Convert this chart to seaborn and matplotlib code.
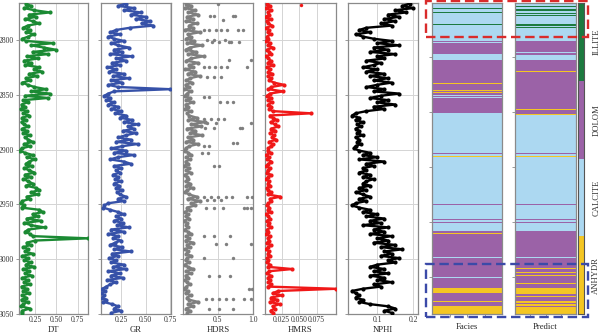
import numpy as np
import pandas as pd
import matplotlib
matplotlib.use("Agg")
import matplotlib.pyplot as plt
import seaborn as sns
from matplotlib.patches import Rectangle

sns.set_theme(style="whitegrid")
plt.rcParams['font.family'] = ['Liberation Serif', 'DejaVu Serif']

# ---------------- data ----------------
DEPTH = [2767, 2769, 2771, 2773, 2775, 2777, 2779, 2781, 2783, 2785, 2787, 2789, 2791, 2793, 2795, 2797, 2799,
         2801, 2803, 2805, 2807, 2809, 2811, 2813, 2815, 2817, 2819, 2821, 2823, 2825, 2827, 2829, 2831, 2833, 2835, 2837, 2839,
         2841, 2843, 2845, 2847, 2849, 2851, 2853, 2855, 2857, 2859, 2861, 2863, 2865, 2867, 2869,
         2871, 2873, 2875, 2877, 2879, 2881, 2883, 2885, 2887, 2889, 2891, 2893, 2895, 2897, 2899,
         2901, 2903, 2905, 2907, 2909, 2911, 2913, 2915, 2917, 2919, 2921, 2923, 2925, 2927, 2929, 2931, 2933, 2935, 2937, 2939, 2941, 2943, 2945, 2947, 2949,
         2951, 2953, 2955, 2957, 2959, 2961, 2963, 2965, 2967, 2969, 2971, 2973, 2975, 2977, 2979, 2981, 2983, 2985, 2987, 2989, 2991, 2993, 2995, 2997, 2999,
         3001, 3003, 3005, 3007, 3009, 3011, 3013, 3015, 3017, 3019, 3021, 3023, 3025, 3027, 3029, 3031, 3033, 3035, 3037, 3039, 3041, 3043, 3045, 3047, 3049]

DT = [0.14, 0.20, 0.12, 0.24, 0.42, 0.18, 0.26, 0.13, 0.22, 0.30, 0.16, 0.11, 0.19, 0.14, 0.24, 0.17, 0.10,
      0.14, 0.46, 0.20, 0.35, 0.49, 0.22, 0.40, 0.15, 0.28, 0.12, 0.20, 0.13, 0.30, 0.24, 0.33, 0.18, 0.27, 0.14, 0.19, 0.10,
      0.16, 0.24, 0.38, 0.20, 0.42, 0.13, 0.40, 0.11, 0.16, 0.09, 0.13, 0.08, 0.15, 0.11, 0.18,
      0.10, 0.14, 0.09, 0.12, 0.17, 0.10, 0.15, 0.11, 0.19, 0.13, 0.17, 0.22, 0.12, 0.19, 0.09,
      0.07, 0.13, 0.22, 0.15, 0.25, 0.18, 0.14, 0.21, 0.12, 0.18, 0.24, 0.13, 0.20, 0.11, 0.17, 0.22, 0.14, 0.26, 0.30, 0.20, 0.28, 0.15, 0.19, 0.10, 0.08,
      0.12, 0.09, 0.30, 0.34, 0.22, 0.28, 0.15, 0.32, 0.12, 0.20, 0.36, 0.17, 0.13, 0.19, 0.22, 0.87, 0.25, 0.15, 0.20, 0.11, 0.17, 0.13, 0.22, 0.10, 0.16,
      0.12, 0.20, 0.14, 0.24, 0.11, 0.18, 0.13, 0.21, 0.10, 0.16, 0.12, 0.19, 0.09, 0.15, 0.11, 0.18, 0.10, 0.14, 0.09, 0.16, 0.11, 0.08, 0.19, 0.10, 0.09]

GR = [0.30, 0.22, 0.38, 0.28, 0.45, 0.35, 0.50, 0.40, 0.55, 0.46, 0.58, 0.34, 0.20, 0.14, 0.24, 0.12, 0.18,
      0.28, 0.15, 0.22, 0.33, 0.18, 0.26, 0.14, 0.36, 0.20, 0.30, 0.16, 0.24, 0.11, 0.20, 0.13, 0.28, 0.17, 0.33, 0.15, 0.26,
      0.12, 0.22, 0.75, 0.18, 0.12, 0.08, 0.14, 0.10, 0.18, 0.12, 0.22, 0.15, 0.25, 0.19, 0.30,
      0.24, 0.36, 0.28, 0.42, 0.32, 0.38, 0.27, 0.40, 0.30, 0.22, 0.35, 0.20, 0.42, 0.26, 0.15,
      0.30, 0.18, 0.38, 0.22, 0.14, 0.28, 0.35, 0.18, 0.25, 0.20, 0.24, 0.17, 0.22, 0.19, 0.25, 0.18, 0.23, 0.20, 0.26, 0.21, 0.24, 0.30, 0.22, 0.28, 0.12,
      0.08, 0.07, 0.14, 0.22, 0.28, 0.20, 0.25, 0.18, 0.27, 0.21, 0.33, 0.15, 0.28, 0.12, 0.22, 0.17, 0.25, 0.19, 0.14, 0.26, 0.18, 0.35, 0.16, 0.22, 0.13,
      0.20, 0.15, 0.28, 0.17, 0.30, 0.12, 0.24, 0.15, 0.27, 0.11, 0.20, 0.14, 0.10, 0.06, 0.09, 0.05, 0.08, 0.06, 0.10, 0.07, 0.16, 0.22, 0.18, 0.25, 0.15]

HDRS = [0.05, 0.12, 0.03, 0.18, 0.08, 0.22, 0.06, 0.15, 0.04, 0.20, 0.09, 0.14, 0.03, 0.25, 0.07, 0.11, 0.05,
        0.16, 0.06, 0.28, 0.10, 0.04, 0.19, 0.08, 0.30, 0.12, 0.05, 0.22, 0.09, 0.15, 0.03, 0.18, 0.07, 0.24, 0.10, 0.05, 0.13,
        0.04, 0.09, 0.02, 0.12, 0.06, 0.03, 0.10, 0.05, 0.15, 0.04, 0.08, 0.03, 0.11, 0.06, 0.09,
        0.20, 0.08, 0.32, 0.12, 0.26, 0.06, 0.18, 0.10, 0.28, 0.07, 0.15, 0.05, 0.22, 0.09, 0.04,
        0.03, 0.08, 0.12, 0.05, 0.10, 0.04, 0.07, 0.02, 0.09, 0.05, 0.11, 0.03, 0.06, 0.08, 0.04, 0.10, 0.05, 0.14, 0.06, 0.03, 0.09, 0.20, 0.07, 0.25, 0.12,
        0.18, 0.06, 0.10, 0.03, 0.07, 0.04, 0.09, 0.02, 0.06, 0.05, 0.08, 0.03, 0.07, 0.12, 0.05, 0.09, 0.04, 0.15, 0.06, 0.10, 0.03, 0.08, 0.05, 0.12, 0.06,
        0.04, 0.09, 0.03, 0.07, 0.15, 0.05, 0.11, 0.04, 0.08, 0.03, 0.06, 0.10, 0.05, 0.02, 0.07, 0.04, 0.12, 0.06, 0.09, 0.22, 0.08, 0.14, 0.05, 0.10, 0.06]

HMRS = [0.004, 0.008, 0.003, 0.010, 0.005, 0.007, 0.002, 0.009, 0.004, 0.006, 0.011, 0.003, 0.007, 0.005, 0.009, 0.004, 0.006,
        0.003, 0.008, 0.005, 0.012, 0.004, 0.007, 0.010, 0.003, 0.006, 0.009, 0.005, 0.013, 0.004, 0.008, 0.006, 0.011, 0.005, 0.009, 0.007, 0.014,
        0.028, 0.010, 0.006, 0.027, 0.008, 0.004, 0.009, 0.005, 0.011, 0.006, 0.010, 0.007, 0.012, 0.067, 0.008,
        0.012, 0.018, 0.009, 0.015, 0.020, 0.010, 0.016, 0.008, 0.014, 0.011, 0.017, 0.007, 0.012, 0.009, 0.006,
        0.005, 0.009, 0.003, 0.007, 0.004, 0.010, 0.006, 0.003, 0.008, 0.005, 0.004, 0.009, 0.006, 0.003, 0.007, 0.005, 0.008, 0.004, 0.006, 0.009, 0.005, 0.023, 0.008, 0.010, 0.006,
        0.004, 0.007, 0.005, 0.009, 0.003, 0.006, 0.008, 0.004, 0.007, 0.005, 0.010, 0.004, 0.006, 0.003, 0.008, 0.005, 0.007, 0.004, 0.009, 0.006, 0.003, 0.007, 0.005, 0.008, 0.004,
        0.006, 0.004, 0.008, 0.005, 0.040, 0.007, 0.004, 0.009, 0.005, 0.008, 0.006, 0.010, 0.005, 0.103, 0.020, 0.012, 0.025, 0.010, 0.018, 0.008, 0.022, 0.012, 0.015, 0.009, 0.013]

NPHI = [0.19, 0.17, 0.20, 0.15, 0.18, 0.13, 0.16, 0.12, 0.15, 0.11, 0.14, 0.07, 0.05, 0.08, 0.04, 0.06, 0.09,
        0.14, 0.10, 0.16, 0.09, 0.13, 0.08, 0.15, 0.10, 0.12, 0.07, 0.11, 0.09, 0.06, 0.10, 0.07, 0.12, 0.08, 0.13, 0.09, 0.14,
        0.10, 0.07, 0.12, 0.09, 0.16, 0.11, 0.08, 0.13, 0.10, 0.15, 0.09, 0.12, 0.07, 0.04, 0.03,
        0.05, 0.04, 0.06, 0.045, 0.055, 0.04, 0.05, 0.045, 0.06, 0.04, 0.05, 0.045, 0.055, 0.04, 0.035,
        0.05, 0.08, 0.06, 0.10, 0.05, 0.12, 0.07, 0.09, 0.06, 0.07, 0.05, 0.08, 0.06, 0.09, 0.07, 0.06, 0.08, 0.05, 0.07, 0.04, 0.06, 0.08, 0.05, 0.07, 0.04,
        0.03, 0.05, 0.08, 0.06, 0.10, 0.07, 0.12, 0.08, 0.11, 0.06, 0.13, 0.09, 0.12, 0.08, 0.14, 0.10, 0.13, 0.09, 0.15, 0.11, 0.17, 0.12, 0.14, 0.11, 0.16,
        0.13, 0.15, 0.10, 0.08, 0.12, 0.09, 0.13, 0.08, 0.12, 0.10, 0.14, 0.09, 0.11, 0.06, 0.03, 0.04, 0.05, 0.04, 0.06, 0.05, 0.08, 0.13, 0.15, 0.12, 0.14]

# isolated HDRS readings away from the main band
HDRS_OUT_DEPTH = [2767, 2778, 2778, 2778, 2778, 2782, 2791, 2791, 2791, 2791, 2791, 2791, 2791,
                  2800, 2800, 2800, 2802, 2802, 2802, 2802, 2802, 2818, 2818,
                  2825, 2825, 2825, 2825, 2825, 2825, 2834, 2834, 2834, 2852, 2852, 2857, 2857, 2857,
                  2872, 2872, 2872, 2872, 2876, 2876, 2876, 2880, 2880, 2880, 2880, 2894, 2894, 2897, 2897,
                  2903, 2903, 2915, 2915, 2943, 2943, 2943, 2943, 2943, 2943, 2943, 2946, 2946, 2946,
                  2953, 2953, 2953, 2953, 2953, 2953, 2979, 2979, 2979, 2986, 2986, 2986, 2999, 2999,
                  3015, 3015, 3015, 3027, 3027, 3036, 3036, 3036, 3036, 3036, 3036, 3036, 3045, 3045, 3045]
HDRS_OUT_VALUE = [0.50, 0.39, 0.44, 0.72, 0.75, 0.57, 0.30, 0.38, 0.47, 0.55, 0.63, 0.78, 0.86,
                  0.35, 0.45, 0.60, 0.42, 0.52, 0.66, 0.69, 0.80, 0.66, 0.97,
                  0.30, 0.38, 0.46, 0.55, 0.63, 0.91, 0.35, 0.45, 0.55, 0.30, 0.37, 0.53, 0.63, 0.71,
                  0.30, 0.40, 0.50, 0.58, 0.35, 0.47, 0.97, 0.32, 0.44, 0.81, 0.84, 0.72, 0.77, 0.30, 0.38,
                  0.28, 0.36, 0.45, 0.52, 0.30, 0.40, 0.50, 0.62, 0.70, 0.92, 0.98, 0.35, 0.45, 0.55,
                  0.33, 0.45, 0.57, 0.87, 0.92, 0.97, 0.30, 0.45, 0.67, 0.47, 0.62, 0.97, 0.30, 0.72,
                  0.37, 0.52, 0.67, 0.94, 0.99, 0.33, 0.42, 0.52, 0.62, 0.72, 0.87, 0.97, 0.37, 0.52, 0.72]
HMRS_OUT_DEPTH = [2768]
HMRS_OUT_VALUE = [0.053]

FACIES_NAMES = ['ILLITE', 'DOLOM', 'CALCITE', 'ANHYDR']
FACIES_COLORS = ['#1c7a3f', '#9b62a7', '#acd8f1', '#f4c623']

# facies intervals: top depth of each interval and facies code (0 ILLITE, 1 DOLOM, 2 CALCITE, 3 ANHYDR)
TRUE_TOP = [2766.0, 2771.0, 2771.6, 2775.0, 2775.6, 2785.5, 2786.1, 2800.6, 2802.4, 2802.8, 2803.6, 2804.0,
            2813.0, 2815.3, 2815.8, 2818.0, 2828.2, 2828.7, 2829.8, 2830.2, 2839.4, 2839.9, 2846.1, 2846.7,
            2847.9, 2848.3, 2850.4, 2850.8, 2852.2, 2852.6, 2866.7, 2903.4, 2904.0, 2905.8, 2906.1, 2906.5,
            2950.0, 2950.6, 2963.6, 2964.2, 2966.5, 2966.8, 2974.3, 2976.2, 2976.6, 2989.4, 2990.2, 2991.6,
            2992.0, 2998.3, 2998.8, 3010.4, 3010.8, 3016.5, 3016.9, 3026.4, 3031.0, 3038.5, 3039.2, 3040.0,
            3040.4, 3043.0, 3045.2, 3045.8]
TRUE_CODE = [2, 0, 2, 0, 2, 0, 2, 1, 2, 1, 2, 1,
             2, 1, 2, 1, 3, 1, 3, 1, 3, 1, 3, 1,
             3, 1, 2, 1, 2, 1, 2, 1, 2, 1, 3, 2,
             1, 2, 1, 2, 1, 2, 1, 3, 1, 2, 1, 2,
             1, 2, 1, 2, 1, 2, 1, 3, 1, 3, 1, 3,
             1, 3, 1, 3]
PRED_TOP = [2766.0, 2766.6, 2767.2, 2769.1, 2770.3, 2772.1, 2773.6, 2775.7, 2776.6, 2777.1, 2778.2, 2785.5,
            2786.3, 2786.9, 2787.7, 2788.3, 2789.2, 2800.6, 2807.0, 2807.4, 2809.0, 2809.4, 2811.2, 2811.6,
            2813.5, 2815.4, 2815.9, 2818.0, 2828.6, 2829.0, 2839.2, 2839.6, 2845.3, 2846.1, 2847.4, 2847.8,
            2850.3, 2850.7, 2863.4, 2863.8, 2867.5, 2868.8, 2903.4, 2904.0, 2905.8, 2906.1, 2906.5, 2950.0,
            2950.6, 2963.6, 2964.2, 2966.5, 2966.8, 2974.3, 2977.7, 2978.1, 2989.4, 2990.2, 2998.3, 2998.8,
            3008.3, 3008.8, 3011.8, 3012.3, 3014.6, 3015.2, 3019.0, 3019.4, 3022.0, 3022.4, 3026.4, 3031.8,
            3033.9, 3034.3, 3036.0, 3036.4, 3038.2, 3040.0, 3040.5, 3043.0, 3044.0, 3045.3, 3045.8, 3047.3,
            3047.7]
PRED_CODE = [2, 0, 2, 0, 2, 0, 2, 0, 2, 0, 2, 0,
             2, 0, 2, 0, 2, 1, 3, 1, 2, 1, 2, 1,
             2, 1, 2, 1, 3, 1, 3, 1, 0, 1, 2, 1,
             2, 1, 3, 1, 3, 2, 1, 2, 1, 3, 2, 1,
             2, 1, 2, 1, 2, 1, 3, 1, 2, 1, 2, 1,
             3, 1, 3, 1, 3, 1, 3, 1, 3, 1, 3, 1,
             3, 1, 3, 1, 3, 1, 3, 1, 3, 1, 3, 1,
             3]

LOGS = ['DT', 'GR', 'HDRS', 'HMRS', 'NPHI']
LOG_COLORS = ['#1b8a33', '#3651a8', '#7f7f7f', '#f01818', '#000000']
LOG_XLIM = [(0.06, 0.87), (0.046, 0.76), (0.003, 1.0), (0.001, 0.103), (0.019, 0.213)]
LOG_XTICKS = [[0.25, 0.5, 0.75], [0.25, 0.5, 0.75], [0.5, 1.0], [0.025, 0.05, 0.075], [0.1, 0.2]]
DEPTH_TICKS = [2800, 2850, 2900, 2950, 3000, 3050]

# ---------------- figure ----------------
W, H = 600, 335
TOP, BOT = 2766.4, 3050.0
fig = plt.figure(figsize=(W / 100, H / 100), dpi=100)
fig.patch.set_facecolor('white')


def ax_at(x0, x1, y0=3, y1=314):
    return fig.add_axes([x0 / W, 1 - y1 / H, (x1 - x0) / W, (y1 - y0) / H])


SPINE = '#8a8a8a'
TICKFS, LABFS = 5.5, 6.2


def style(ax):
    for s in ax.spines.values():
        s.set_color(SPINE)
        s.set_linewidth(0.9)
    ax.tick_params(axis='both', labelsize=TICKFS, colors='#333333', pad=1.5)
    ax.tick_params(axis='y', left=True, length=2.2, width=0.6, color=SPINE)
    ax.tick_params(axis='x', bottom=True, length=0, width=0.6, color=SPINE)


log_df = pd.DataFrame({'DEPTH': DEPTH, 'DT': DT, 'GR': GR, 'HDRS': HDRS, 'HMRS': HMRS, 'NPHI': NPHI})
xpos = [(19, 88), (101, 171), (183, 253), (265, 336), (348, 418)]

for i, name in enumerate(LOGS):
    ax = ax_at(*xpos[i])
    ax.set_facecolor('white')
    ax.grid(True, color='#d4d4d4', linewidth=0.7)
    sns.lineplot(data=log_df, x=name, y='DEPTH', orient='y', estimator=None, sort=True,
                 color=LOG_COLORS[i], linewidth=1.7, marker='o', markersize=3.0,
                 markeredgewidth=0, ax=ax, zorder=3)
    if name == 'HDRS':
        sns.scatterplot(x=HDRS_OUT_VALUE, y=HDRS_OUT_DEPTH, color=LOG_COLORS[i], s=6,
                        linewidth=0, ax=ax, zorder=3)
    if name == 'HMRS':
        sns.scatterplot(x=HMRS_OUT_VALUE, y=HMRS_OUT_DEPTH, color=LOG_COLORS[i], s=6,
                        linewidth=0, ax=ax, zorder=3)
    ax.set_xlim(*LOG_XLIM[i])
    ax.set_ylim(BOT, TOP)
    ax.set_xticks(LOG_XTICKS[i])
    ax.set_yticks(DEPTH_TICKS)
    ax.set_xlabel(name, fontsize=LABFS, labelpad=1.5)
    ax.set_ylabel('')
    if i > 0:
        ax.set_yticklabels([])
    style(ax)


def draw_column(ax, tops, codes):
    bottoms = tops[1:] + [BOT]
    heights = [b - t for t, b in zip(tops, bottoms)]
    ax.barh(y=tops, width=4, height=heights, left=0, align='edge',
            color=[FACIES_COLORS[c] for c in codes], linewidth=0)
    ax.set_xlim(0, 4)
    ax.set_ylim(BOT, TOP)
    ax.grid(False)
    ax.set_xticks([1, 2, 3])
    ax.set_xticklabels([])
    ax.set_yticks([2816, 2866, 2916, 2966, 3016])
    ax.set_yticklabels([])
    style(ax)
    ax.tick_params(axis='x', length=2.2)


axf = ax_at(432, 502)
draw_column(axf, TRUE_TOP, TRUE_CODE)
axf.set_xlabel('Facies', fontsize=LABFS, labelpad=3)

axp = ax_at(515, 576)
draw_column(axp, PRED_TOP, PRED_CODE)
axp.set_xlabel('Predict', fontsize=LABFS, labelpad=3)

# discrete colour bar
axc = ax_at(578, 584)
axc.barh(y=[0, 1, 2, 3], width=1, height=1, left=0, align='edge', color=FACIES_COLORS, linewidth=0)
axc.set_xlim(0, 1)
axc.set_ylim(4, 0)
axc.grid(False)
axc.set_xticks([])
axc.set_yticks([0.5, 1.5, 2.5, 3.5])
axc.set_yticklabels(FACIES_NAMES, rotation=90, va='center', fontsize=TICKFS + 0.7)
axc.yaxis.tick_right()
for s in axc.spines.values():
    s.set_color('#555555')
    s.set_linewidth(0.8)
axc.tick_params(axis='y', right=True, left=False, length=0, pad=6, colors='#333333')

# dashed highlight boxes
fig.patches.append(Rectangle((426 / W, 1 - 37 / H), 162 / W, 36 / H, transform=fig.transFigure,
                             fill=False, edgecolor='#d92b2b', linestyle=(0, (4, 2)), linewidth=1.7, zorder=10))
fig.patches.append(Rectangle((426 / W, 1 - 317 / H), 162 / W, 53 / H, transform=fig.transFigure,
                             fill=False, edgecolor='#3b4aa8', linestyle=(0, (4, 2)), linewidth=1.7, zorder=10))

fig.savefig('out.png', dpi=100, facecolor='white')
